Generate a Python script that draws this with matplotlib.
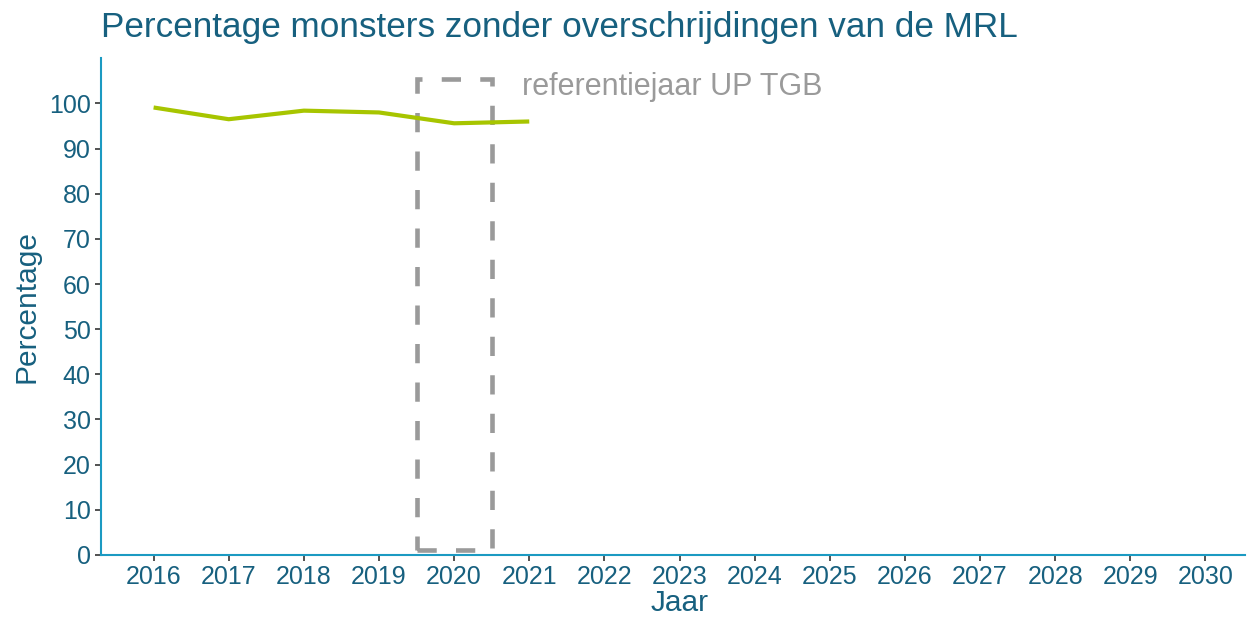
import matplotlib
matplotlib.use("Agg")
import matplotlib.pyplot as plt
from matplotlib.patches import Rectangle

plt.rcParams['font.family'] = ['Liberation Sans', 'DejaVu Sans']

jaren = [2016, 2017, 2018, 2019, 2020, 2021]
percentage = [99.1, 96.5, 98.4, 98.0, 95.6, 96.0]
alle_jaren = list(range(2016, 2031))
ref_jaar = 2020
ref_label = 'referentiejaar UP TGB'

donkerblauw = '#17607f'
asblauw = '#1b9ac2'
groen = '#a7c500'
grijs = '#9a9a9a'

fig, ax = plt.subplots(figsize=(12.47, 6.2), dpi=100)
fig.subplots_adjust(left=0.081, right=0.998, bottom=0.105, top=0.906)

ax.plot(jaren, percentage, color=groen, lw=3.0, solid_capstyle='butt', zorder=3)

# referentiejaar kader
rect = Rectangle((ref_jaar - 0.5, 1.1), 1.0, 104.2, fill=False, edgecolor=grijs,
                 lw=3.3, linestyle=(0, (4.2, 4.2)), zorder=2)
ax.add_patch(rect)
ax.text(ref_jaar + 0.9, 103.6, ref_label, color=grijs, fontsize=22, va='center', ha='left')

ax.set_xlim(2015.3, 2030.52)
ax.set_ylim(0, 110)
ax.set_xticks(alle_jaren)
ax.set_yticks(range(0, 101, 10))

for s in ['top', 'right']:
    ax.spines[s].set_visible(False)
for s in ['left', 'bottom']:
    ax.spines[s].set_color(asblauw)
    ax.spines[s].set_linewidth(1.5)

ax.tick_params(axis='both', colors='#333333', labelcolor=donkerblauw, labelsize=18,
               length=4, width=1.2)
ax.set_xlabel('Jaar', color=donkerblauw, fontsize=21.5, labelpad=0, x=0.506)
ax.set_ylabel('Percentage', color=donkerblauw, fontsize=21.5, labelpad=6)
ax.set_title('Percentage monsters zonder overschrijdingen van de MRL', color=donkerblauw,
             fontsize=25.3, loc='left', pad=15)

fig.savefig('out.png', dpi=100)
